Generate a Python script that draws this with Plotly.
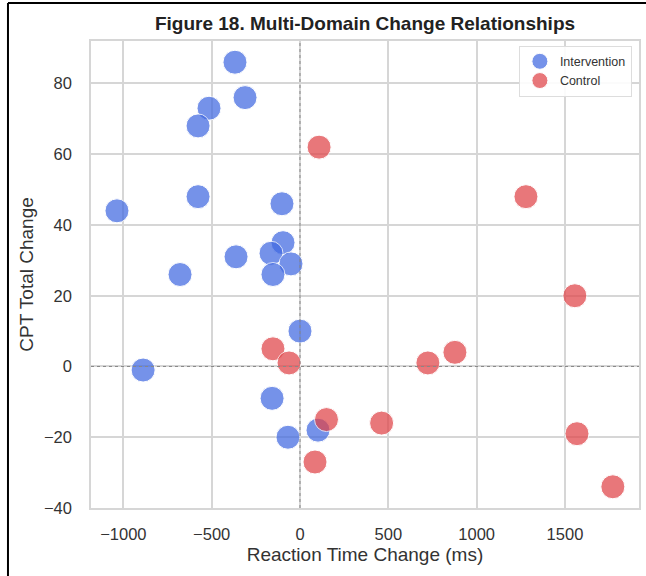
import plotly.graph_objects as go

# Intervention group
int_rt = [-368, -311, -515, -577, -1036, -577, -102, -96, -164, -362, -51, -153, -679, 0, -888, -158, -68, 102]
int_cpt = [86, 76, 73, 68, 44, 48, 46, 35, 32, 31, 29, 26, 26, 10, -1, -9, -20, -18]

# Control group
ctl_rt = [108, 1279, 1556, -153, -62, 724, 877, 150, 462, 85, 1568, 1771]
ctl_cpt = [62, 48, 20, 5, 1, 1, 4, -15, -16, -27, -19, -34]

x_ticks = [-1000, -500, 0, 500, 1000, 1500]
y_ticks = [-40, -20, 0, 20, 40, 60, 80]

FONT = "Liberation Sans, Arial, sans-serif"

fig = go.Figure()
fig.add_trace(go.Scatter(
    x=int_rt, y=int_cpt, mode="markers", name="Intervention",
    marker=dict(size=24, color="#4169E1", opacity=0.72, line=dict(color="white", width=1)),
))
fig.add_trace(go.Scatter(
    x=ctl_rt, y=ctl_cpt, mode="markers", name="Control",
    marker=dict(size=24, color="#E04448", opacity=0.72, line=dict(color="white", width=1)),
))

# zero reference lines
fig.add_shape(type="line", xref="x", yref="paper", x0=0, x1=0, y0=0, y1=1,
              line=dict(color="#888888", width=1, dash="dot"))
fig.add_shape(type="line", xref="paper", yref="y", x0=0, x1=1, y0=0, y1=0,
              line=dict(color="#888888", width=1, dash="dot"))

# page border (left and top)
fig.add_shape(type="line", xref="paper", yref="paper", x0=-0.1515, x1=-0.1515, y0=1.0814, y1=-0.16,
              line=dict(color="black", width=2))
fig.add_shape(type="line", xref="paper", yref="paper", x0=-0.1515, x1=1.02, y0=1.0814, y1=1.0814,
              line=dict(color="black", width=2))

fig.update_layout(
    width=646, height=576,
    margin=dict(l=91, r=7, t=41, b=68, autoexpand=False),
    paper_bgcolor="white", plot_bgcolor="white",
    font=dict(family=FONT, color="#333333", size=16),
    title=dict(text="<b>Figure 18. Multi-Domain Change Relationships</b>",
               x=(91 + 639) / 2 / 646, xref="container", xanchor="center",
               y=1 - 23 / 576, yref="container", yanchor="middle",
               font=dict(size=19, color="#222222", family=FONT)),
    showlegend=True,
    legend=dict(x=0.987, xanchor="right", y=0.99, yanchor="top",
                bgcolor="rgba(255,255,255,0.9)", bordercolor="#dddddd", borderwidth=1,
                font=dict(size=12.5, color="#333333", family=FONT),
                itemsizing="trace", tracegroupgap=0),
    xaxis=dict(range=[-1183, 1919], tickvals=x_ticks,
               ticktext=["\u22121000", "\u2212500", "0", "500", "1000", "1500"],
               showgrid=True, gridcolor="#d6d6d6", gridwidth=1.5, zeroline=False,
               showline=True, linecolor="#d6d6d6", linewidth=1.5, mirror=True,
               ticks="", ticklabelstandoff=10, automargin=False,
               title=dict(text="Reaction Time Change (ms)", font=dict(size=19), standoff=6),
               tickfont=dict(size=16.5)),
    yaxis=dict(range=[-40, 92], tickvals=y_ticks,
               ticktext=["\u221240", "\u221220", "0", "20", "40", "60", "80"],
               showgrid=True, gridcolor="#d6d6d6", gridwidth=1.5, zeroline=False,
               showline=True, linecolor="#d6d6d6", linewidth=1.5, mirror=True,
               ticks="", ticklabelstandoff=14, automargin=False,
               title=dict(text="CPT Total Change", font=dict(size=19), standoff=5),
               tickfont=dict(size=16.5)),
)

fig.write_html("out.html", config={"displayModeBar": False},
               post_script="document.body.style.margin='0';document.body.style.overflow='hidden';")
